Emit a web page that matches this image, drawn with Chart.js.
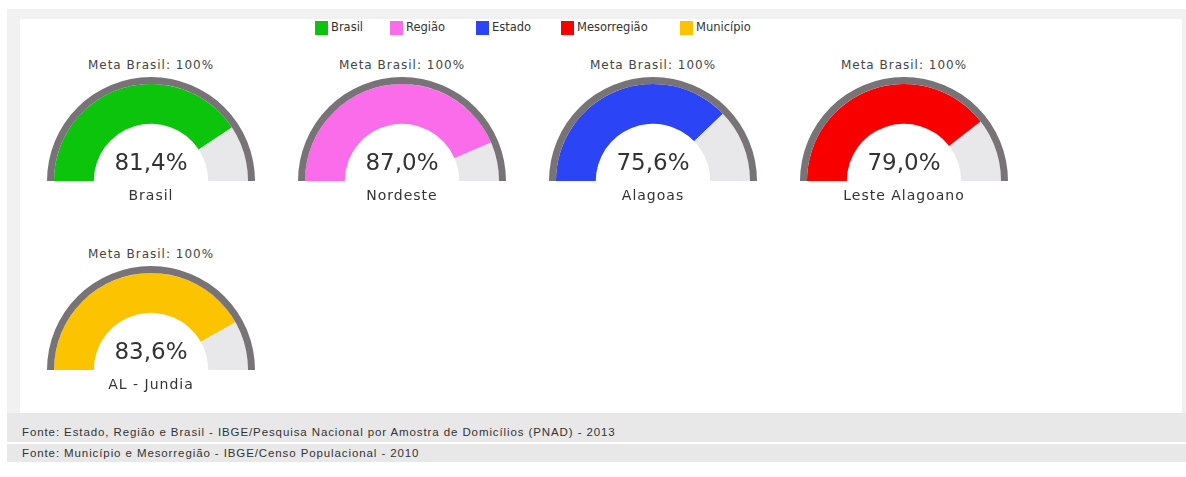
<!DOCTYPE html>
<html>
<head>
  <title>Meta Brasil</title>
  <script src="https://cdn.jsdelivr.net/npm/chart.js@4.4.0/dist/chart.umd.min.js"></script>
  <style>
    body {
      margin: 0;
      background-color: #fff;
      font-family: "DejaVu Sans", Verdana, sans-serif;
      color: #333;
    }
    #page {
      position: relative;
      width: 1186px;
      height: 477px;
      overflow: hidden;
    }
    #frame {
      position: absolute;
      left: 7px;
      top: 9px;
      right: 0;
      height: 404px;
      background: #f1f1f1;
    }
    #panel {
      position: absolute;
      left: 20px;
      top: 19px;
      right: 4px;
      height: 394px;
      background: #fff;
    }
    #legend {
      position: absolute;
      top: 20px;
      left: 0;
      font-size: 11.5px;
      line-height: 15px;
      color: #333;
    }
    .item {
      position: absolute;
      display: flex;
      align-items: center;
      white-space: nowrap;
    }
    .box {
      width: 13px;
      height: 14px;
      margin-right: 3px;
    }
    .gauge {
      position: absolute;
      width: 208px;
    }
    .gauge canvas {
      display: block;
    }
    .meta, .value, .name {
      position: absolute;
      left: -40px;
      width: 288px;
      text-align: center;
      white-space: nowrap;
    }
    .meta {
      font-size: 12px;
      line-height: 14px;
      letter-spacing: 1px;
      color: #444;
    }
    .value {
      font-size: 23px;
      line-height: 27px;
      color: #333;
    }
    .name {
      font-size: 14px;
      line-height: 17px;
      letter-spacing: 1px;
      color: #333;
    }
    .fonte {
      position: absolute;
      left: 7px;
      right: 0;
      background: #e8e8e8;
      font-family: "Liberation Sans", Arial, sans-serif;
      font-size: 11.5px;
      letter-spacing: 0.9px;
      color: #333;
      padding-left: 15px;
      box-sizing: border-box;
    }
  </style>
</head>
<body>
  <div id="page">
    <div id="frame"></div>
    <div id="panel"></div>
    <div id="legend"></div>
    <div id="gauges"></div>
    <div class="fonte" style="top:413px;height:29px;line-height:38px;">Fonte: Estado, Região e Brasil - IBGE/Pesquisa Nacional por Amostra de Domicílios (PNAD) - 2013</div>
    <div class="fonte" style="top:444px;height:18px;line-height:18px;">Fonte: Município e Mesorregião - IBGE/Censo Populacional - 2010</div>
  </div>

  <script>
    // Legend levels and the place each gauge refers to
    var levels = ['Brasil', 'Região', 'Estado', 'Mesorregião', 'Município'];
    var places = ['Brasil', 'Nordeste', 'Alagoas', 'Leste Alagoano', 'AL - Jundia'];
    var values = [81.4, 87.0, 75.6, 79.0, 83.6];
    var meta = 100;
    var metaLabel = 'Meta Brasil: ' + meta + '%';

    var colors = ['#0dc40d', '#fa6cea', '#2a44f6', '#f80000', '#fcc400'];
    var ringColor = '#777377';
    var restColor = '#e8e7ea';
    var legendLeft = [315, 390, 476, 561, 680];

    // Legend
    var legend = document.getElementById('legend');
    levels.forEach(function(level, i) {
      var item = document.createElement('div');
      item.className = 'item';
      item.style.left = legendLeft[i] + 'px';
      item.innerHTML = '<span class="box" style="background:' + colors[i] + '"></span><span>' + level + '</span>';
      legend.appendChild(item);
    });

    function formatValue(v) {
      return v.toFixed(1).replace('.', ',') + '%';
    }

    // Gauges: half doughnuts, outer thin ring = meta, inner ring = value / remainder
    var holder = document.getElementById('gauges');
    values.forEach(function(value, i) {
      var col = i % 4;
      var row = Math.floor(i / 4);
      var cx = 151 + col * 251;
      var base = 181 + row * 189;

      var g = document.createElement('div');
      g.className = 'gauge';
      g.style.left = (cx - 104) + 'px';
      g.style.top = (base - 104) + 'px';
      g.innerHTML =
        '<div class="meta" style="top:-19px">' + metaLabel + '</div>' +
        '<canvas width="208" height="104"></canvas>' +
        '<div class="value" style="top:72px">' + formatValue(value) + '</div>' +
        '<div class="name" style="top:110px">' + places[i] + '</div>';
      holder.appendChild(g);

      new Chart(g.querySelector('canvas'), {
        type: 'doughnut',
        data: {
          labels: [levels[i], ''],
          datasets: [
            {
              data: [meta],
              backgroundColor: [ringColor],
              borderWidth: 0,
              weight: 7
            },
            {
              data: [value, meta - value],
              backgroundColor: [colors[i], restColor],
              borderWidth: 0,
              weight: 40
            }
          ]
        },
        options: {
          responsive: false,
          animation: false,
          rotation: -90,
          circumference: 180,
          cutout: '55%',
          layout: { padding: 0 },
          plugins: {
            legend: { display: false },
            tooltip: { enabled: false }
          }
        }
      });
    });
  </script>
</body>
</html>
